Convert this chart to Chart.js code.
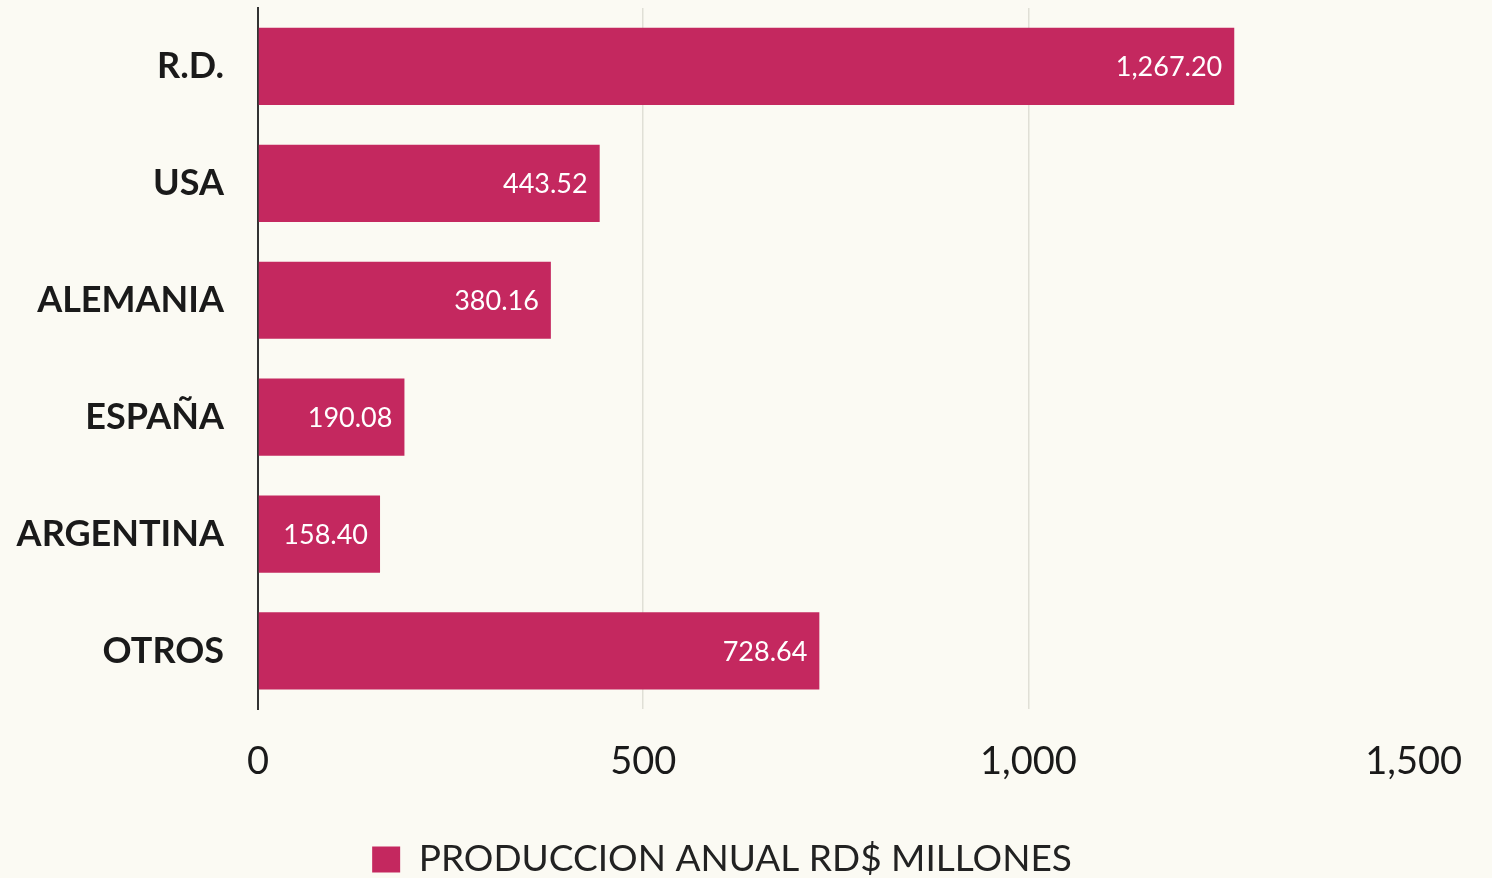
<!DOCTYPE html>
<html lang="es">
<head>
<meta charset="utf-8">
<title>Producción anual</title>
<script src="https://cdn.jsdelivr.net/npm/chart.js@4"></script>
<style>
  html, body { margin: 0; padding: 0; background: #fbfaf3; }
  #wrap { position: relative; width: 1492px; height: 878px; }
</style>
</head>
<body>
<div id="wrap"><canvas id="produccion"></canvas></div>
<script>
const paises = ['R.D.', 'USA', 'ALEMANIA', 'ESPAÑA', 'ARGENTINA', 'OTROS'];
const produccion = [1267.20, 443.52, 380.16, 190.08, 158.40, 728.64];
const serieNombre = 'PRODUCCION ANUAL RD$ MILLONES';

const barColor = '#c4285f';

// writes each value inside the right end of its bar
const valueLabels = {
    id: 'valueLabels',
    afterDatasetsDraw(chart) {
        const { ctx } = chart;
        const meta = chart.getDatasetMeta(0);
        ctx.save();
        ctx.font = '27px Lato';
        ctx.fillStyle = '#ffffff';
        ctx.textAlign = 'right';
        ctx.textBaseline = 'middle';
        meta.data.forEach((bar, i) => {
            const txt = produccion[i].toLocaleString('en-US', { minimumFractionDigits: 2, maximumFractionDigits: 2 });
            ctx.fillText(txt, bar.x - 12, bar.y + 1);
        });
        ctx.restore();
    }
};

new Chart(document.getElementById('produccion'), {
    type: 'bar',
    data: {
        labels: paises,
        datasets: [{
            label: serieNombre,
            data: produccion,
            backgroundColor: barColor,
            borderWidth: 0,
            barPercentage: 1,
            categoryPercentage: 0.66
        }]
    },
    options: {
        indexAxis: 'y',
        responsive: true,
        maintainAspectRatio: false,
        animation: false,
        layout: { padding: { top: 8, right: 48, bottom: -10, left: 0 } },
        plugins: {
            legend: {
                position: 'bottom',
                labels: {
                    color: '#222',
                    font: { family: 'Lato', size: 37 },
                    boxWidth: 28,
                    boxHeight: 26,
                    padding: 0
                }
            },
            tooltip: { enabled: false }
        },
        scales: {
            x: {
                min: 0,
                max: 1500,
                afterFit: scale => { scale.height += 26; },
                ticks: {
                    stepSize: 500,
                    color: '#1a1a1a',
                    padding: 30,
                    font: { family: 'Lato', size: 38 },
                    callback: v => v.toLocaleString('en-US')
                },
                grid: {
                    drawTicks: false,
                    color: ctx => ctx.tick && (ctx.tick.value === 0 || ctx.tick.value === 1500)
                        ? 'transparent' : '#e0dfd6',
                    lineWidth: 1.5
                },
                border: { display: false }
            },
            y: {
                afterFit: scale => {
                    scale.width = 258;
                    // no extra room above/below for the category labels
                    scale.paddingTop = 0;
                    scale.paddingBottom = 0;
                },
                ticks: {
                    color: '#1a1a1a',
                    padding: 34,
                    font: { family: 'Lato', size: 36, weight: 'bold' }
                },
                grid: { display: false, drawTicks: false },
                border: { display: true, color: '#333', width: 2 }
            }
        }
    },
    plugins: [valueLabels]
});
</script>
</body>
</html>
